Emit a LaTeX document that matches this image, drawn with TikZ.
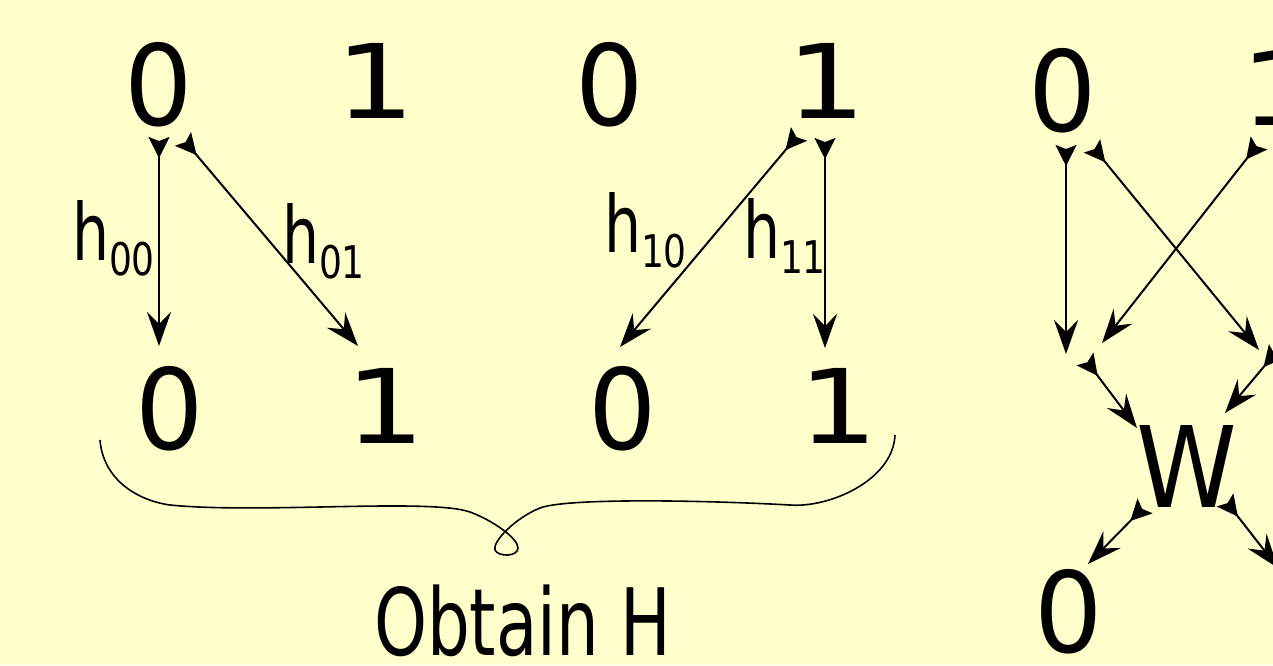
\documentclass[tikz,border=0pt]{standalone}
\usepackage{fontspec}
\setmainfont{DejaVu Sans}
\usetikzlibrary{arrows.meta}
\definecolor{bg}{HTML}{FFFFCC}
\newcommand\dzero{\fontsize{112}{112}\selectfont\scalebox{0.96}[1]{0}}
\newcommand\done{\fontsize{103}{103}\selectfont\scalebox{1.22}[1]{1}}
\newcommand\dW{\fontsize{112.5}{112.5}\selectfont\scalebox{0.905}[1]{W}}
\newcommand\hlab[1]{\scalebox{0.74}[1]{\fontsize{79}{79}\selectfont h}\raisebox{-15pt}{\scalebox{0.8}[1]{\fontsize{45}{45}\selectfont #1}}}
\tikzset{
  digit/.style={inner sep=0pt, outer sep=0pt, anchor=base},
  lab/.style={inner sep=0pt, outer sep=0pt, anchor=base west},
  link/.style={line width=2pt,
    {Stealth[reversed,length=21pt,width=21pt,inset=4pt]}-{Stealth[length=34pt,width=24pt,inset=12pt]}},
  bracepath/.style={line width=1.6pt}
}
\begin{document}
\begin{tikzpicture}[x=1pt,y=-1pt]
\useasboundingbox (0,0) rectangle (1273,665);
\clip (0,0) rectangle (1273,665);
\fill[bg] (0,0) rectangle (1273,665);

% top row
\node[digit] (t0a) at (158.5,125.5) {\dzero};
\node[digit] (t1a) at (375,118) {\done};
\node[digit] (t0b) at (610,125.5) {\dzero};
\node[digit] (t1b) at (826.5,118) {\done};
% bottom row
\node[digit] (b0a) at (169.5,449.5) {\dzero};
\node[digit] (b1a) at (385,443) {\done};
\node[digit] (b0b) at (622.5,449.5) {\dzero};
\node[digit] (b1b) at (838.5,443) {\done};
% right part
\node[digit] (r0) at (1062.5,131.5) {\dzero};
\node[digit] (r1) at (1280,125) {\done};
\node[digit] (w) at (1187,507) {\dW};
\node[digit] (o0) at (1068.5,652.5) {\dzero};

% labels
\node[lab] (l00) at (72,260) {\hlab{00}};
\node[lab] (l01) at (282,263) {\hlab{01}};
\node[lab] (l10) at (604,252) {\hlab{10}};
\node[lab] (l11) at (743,258) {\hlab{11}};
\node[lab] (obt) at (374,655) {\scalebox{0.725}[1]{\fontsize{93}{93}\selectfont Obtain H}};

% connector end points
\coordinate (s1) at (159,137);   \coordinate (e1) at (159,346);
\coordinate (s2) at (183,139);   \coordinate (e2) at (358,346);
\coordinate (s3) at (799,134);   \coordinate (e3) at (620,347);
\coordinate (s4) at (825,138);   \coordinate (e4) at (825,348);
\coordinate (s5) at (1066,145);  \coordinate (e5) at (1066,354);
\coordinate (s6) at (1092,146);  \coordinate (e6) at (1259,350);
\coordinate (s7) at (1259,143);  \coordinate (e7) at (1102,343);
\coordinate (s8) at (1085,359);  \coordinate (e8) at (1137,428);
\coordinate (s9) at (1277,351);  \coordinate (e9) at (1225,413);
\coordinate (s10) at (1145,506); \coordinate (e10) at (1088,564);
\coordinate (s11) at (1225,500); \coordinate (e11) at (1278,568);

\draw[link] (s1) -- (e1);
\draw[link] (s2) -- (e2);
\draw[link] (s3) -- (e3);
\draw[link] (s4) -- (e4);
\draw[link] (s5) -- (e5);
\draw[link] (s6) -- (e6);
\draw[link] (s7) -- (e7);
\draw[link] (s8) -- (e8);
\draw[link] (s9) -- (e9);
\draw[link] (s10) -- (e10);
\draw[link] (s11) -- (e11);

% brace
\draw[bracepath] (100,440) .. controls (103,478) and (135,500) .. (170,505)
  .. controls (260,514) and (430,498) .. (470,512)
  .. controls (492,520) and (518,538) .. (518,548)
  .. controls (518,557) and (498,557) .. (495,550)
  .. controls (492,542) and (515,518) .. (540,508)
  .. controls (565,498) and (700,500) .. (790,505)
  .. controls (830,508) and (893,480) .. (895,435);
\end{tikzpicture}
\end{document}
